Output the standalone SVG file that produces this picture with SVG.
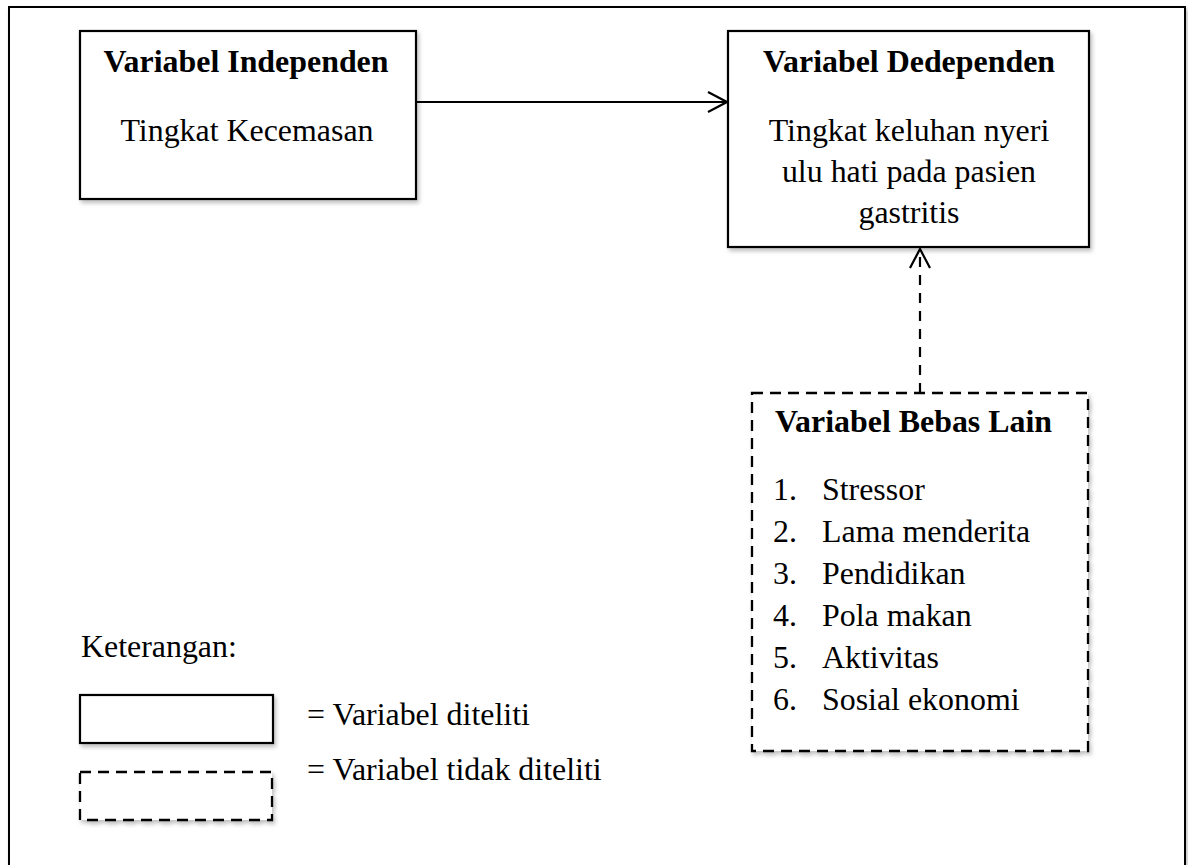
<svg xmlns="http://www.w3.org/2000/svg" width="1188" height="865" viewBox="0 0 1188 865">
<style>
text{font-family:"Liberation Serif","Times New Roman",serif;font-size:31.9px;fill:#000}
.b{font-weight:bold}
.m{text-anchor:middle}
.box{fill:#fff;stroke:#000;stroke-width:2.2;filter:url(#sh)}
.dash{fill:#fff;stroke:#000;stroke-width:2.3;stroke-dasharray:11 7;filter:url(#sh)}
.con{fill:none;stroke:#000;stroke-width:2.2}
</style>
<defs>
<filter id="sh" x="-5%" y="-5%" width="115%" height="120%">
<feDropShadow dx="2" dy="3" stdDeviation="2" flood-color="#000" flood-opacity="0.25"/>
</filter>
<marker id="arr" viewBox="0 0 22 22" refX="20" refY="11" markerWidth="22" markerHeight="22" markerUnits="userSpaceOnUse" orient="auto">
<path d="M1,1 L20,11 L1,21" fill="none" stroke="#000" stroke-width="2.2" stroke-dasharray="none"/>
</marker>
</defs>
<rect x="0" y="0" width="1188" height="865" fill="#fff"/>
<rect id="frame" x="9" y="7" width="1176" height="880" fill="#fff" stroke="#000" stroke-width="2" filter="url(#sh)"/>

<g id="connectors">
<line class="con" x1="416" y1="102" x2="727" y2="102" marker-end="url(#arr)"/>
<line class="con" x1="920" y1="393" x2="920" y2="249" stroke-dasharray="10 8" marker-end="url(#arr)"/>
</g>

<g id="node-independen">
<rect class="box" x="80" y="31" width="336" height="168"/>
<text class="b m" x="246" y="72">Variabel Independen</text>
<text class="m" x="247" y="141">Tingkat Kecemasan</text>
</g>

<g id="node-dependen">
<rect class="box" x="728" y="31" width="361" height="216"/>
<text class="b m" x="909" y="72">Variabel Dedependen</text>
<text class="m" x="909" y="140.5">Tingkat keluhan nyeri</text>
<text class="m" x="909" y="182">ulu hati pada pasien</text>
<text class="m" x="909" y="223">gastritis</text>
</g>

<g id="node-bebas-lain">
<rect class="dash" x="752" y="393" width="336" height="358"/>
<text class="b" x="775" y="432">Variabel Bebas Lain</text>
<text x="773" y="500">1.</text><text x="822" y="500">Stressor</text>
<text x="773" y="542">2.</text><text x="822" y="542">Lama menderita</text>
<text x="773" y="584">3.</text><text x="822" y="584">Pendidikan</text>
<text x="773" y="626">4.</text><text x="822" y="626">Pola makan</text>
<text x="773" y="668">5.</text><text x="822" y="668">Aktivitas</text>
<text x="773" y="710">6.</text><text x="822" y="710">Sosial ekonomi</text>
</g>

<g id="legend">
<text x="81" y="657">Keterangan:</text>
<rect class="box" x="80" y="695" width="193" height="48"/>
<text x="307" y="725">= Variabel diteliti</text>
<rect class="dash" x="80" y="772" width="192" height="48"/>
<text x="307" y="780">= Variabel tidak diteliti</text>
</g>
</svg>
